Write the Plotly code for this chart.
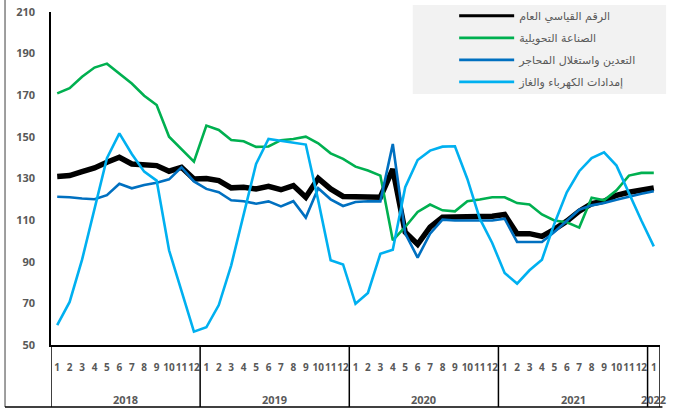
import plotly.graph_objects as go

# ---- data ----
years = ["2018", "2019", "2020", "2021", "2022"]
months_per_year = [12, 12, 12, 12, 1]
month_labels = [str(m) for n in months_per_year for m in range(1, n + 1)]

names = ["الرقم القياسي العام", "الصناعة التحويلية", "التعدين واستغلال المحاجر", "إمدادات الكهرباء والغاز"]

general = [131, 131.4, 133.3, 135.1, 137.8, 140.2, 137, 136.7, 136.2, 133.5, 135.4, 129.8,
           130, 129, 125.5, 125.8, 125, 126.2, 124.6, 126.6, 121, 130.1, 125, 121.4,
           121.4, 121.4, 121, 134.5, 104.2, 98.4, 106.6, 111.4, 111.4, 111.9, 111.9, 111.9,
           112.7, 103.5, 103.5, 102.2, 105.6, 109.5, 114.3, 117.9, 119.1, 121.9, 123.4, 124.6,
           125.4]
manufacturing = [170.9, 173.4, 178.9, 183.3, 185.2, 180.4, 175.6, 169.8, 165.3, 150.1, 144, 138.1,
                 155.4, 153.3, 148.5, 147.9, 145.2, 145.4, 148.4, 149, 150.1, 146.9, 142.1, 139.4,
                 135.7, 133.8, 131.4, 100.3, 106.7, 113.9, 117.5, 114.7, 114.2, 119.1, 119.9, 121,
                 121, 118.2, 117.5, 112.7, 109.8, 109, 106.4, 120.8, 119.5, 124.3, 131.4, 132.7,
                 132.7]
mining = [121.2, 121, 120.4, 120, 122, 127.5, 125.3, 126.9, 128, 129.6, 135.4, 128.6,
          125, 123.4, 119.5, 119.1, 117.9, 119, 116.6, 119.1, 111.2, 125.3, 120, 116.8,
          118.7, 119.1, 119, 146.6, 103.6, 92, 103.5, 110.2, 109.8, 109.8, 109.5, 109.8,
          110.7, 99.5, 99.5, 99.5, 104.3, 109.8, 115, 117.1, 118.2, 119.8, 121.4, 122.7,
          123.9]
electricity = [59.6, 70.7, 91, 115.8, 139.8, 151.7, 141.8, 133.3, 129, 95.5, 75.6, 56.4,
               58.5, 69.2, 88.3, 113.1, 137, 149, 148.2, 147.4, 146.3, 119.5, 90.7, 88.7,
               69.8, 75, 93.8, 95.8, 125.8, 138.9, 143.4, 145.3, 145.5, 129.8, 110.7, 99,
               84.6, 79.5, 85.9, 91, 108.3, 123.4, 133.5, 139.8, 142.6, 136.2, 122.7, 109.8,
               97.4]

series = [general, manufacturing, mining, electricity]
colors = ["#000000", "#00b050", "#0070c0", "#00b0f0"]
widths = [5.5, 2.6, 2.6, 2.6]
legend_widths = [3, 2.6, 2.6, 2.6]

y_ticks = [50, 70, 90, 110, 130, 150, 170, 190, 210]

# ---- figure ----
x = list(range(len(month_labels)))
fig = go.Figure()
for i, (nm, vals) in enumerate(zip(names, series)):
    if widths[i] != legend_widths[i]:
        # legend-only entry with a thinner sample line, as in the reference legend
        fig.add_trace(go.Scatter(x=[None], y=[None], mode="lines", name=nm, legendgroup=str(i),
                                 line=dict(color=colors[i], width=legend_widths[i])))
        show = False
    else:
        show = True
    fig.add_trace(go.Scatter(x=x, y=vals, mode="lines", name=nm, legendgroup=str(i),
                             showlegend=show, line=dict(color=colors[i], width=widths[i])))

grey = "#595959"
tick_font = dict(family="Open Sans", size=11, color=grey, weight="bold")

n = len(month_labels)
fig.update_layout(
    width=673, height=410,
    margin=dict(l=51, r=13, t=12, b=65, autoexpand=False),
    paper_bgcolor="white", plot_bgcolor="white",
    showlegend=True,
    legend=dict(x=0.662, y=1.032, xanchor="left", yanchor="top",
                bgcolor="rgba(0,0,0,0)", font=dict(family="DejaVu Sans", size=11, color=grey),
                tracegroupgap=3, itemwidth=55),
    xaxis=dict(range=[-0.5, n - 0.5], tickmode="array", tickvals=x, ticktext=month_labels,
               tickfont=dict(family="Open Sans", size=10, color=grey, weight="bold"),
               tickangle=0, automargin=False,
               showgrid=False, zeroline=False, showline=True, linecolor="black", linewidth=1.5,
               ticks="", ticklabelstandoff=12, fixedrange=True),
    yaxis=dict(range=[50, 210], tickmode="array", tickvals=y_ticks, automargin=False,
               tickfont=tick_font, showgrid=False, zeroline=False, showline=True,
               linecolor="black", linewidth=1.5, ticks="", ticklabelstandoff=12),
)

# legend background box
fig.add_shape(type="rect", xref="paper", yref="paper", x0=0.594, x1=1.01, y0=0.754, y1=1.021,
              fillcolor="#f2f2f2", line=dict(width=0), layer="below")

# category table lines
ybot = -0.186
bounds = [-0.5]
acc = -0.5
for m in months_per_year:
    acc += m
    bounds.append(acc)
for b in bounds:
    fig.add_shape(type="line", xref="x", yref="paper", x0=b, x1=b,
                  y0=0, y1=ybot, line=dict(color="black", width=1.5))
# outer border left + bottom
fig.add_shape(type="line", xref="paper", yref="paper", x0=-0.0755, x1=-0.0755,
              y0=1.04, y1=ybot, line=dict(color="#7f7f7f", width=1.5))
fig.add_shape(type="line", xref="paper", yref="paper", x0=-0.0755, x1=1.004,
              y0=ybot, y1=ybot, line=dict(color="black", width=1.5))

# year labels
start = 0
for yr, m in zip(years, months_per_year):
    fig.add_annotation(x=start + (m - 1) / 2, y=-0.165, xref="x", yref="paper",
                       text=yr, showarrow=False, yanchor="middle",
                       font=dict(family="Open Sans", size=11, color=grey, weight="bold"))
    start += m

fig.write_html("out.html", config={"displayModeBar": False},
               post_script="document.body.style.margin='0px';")
